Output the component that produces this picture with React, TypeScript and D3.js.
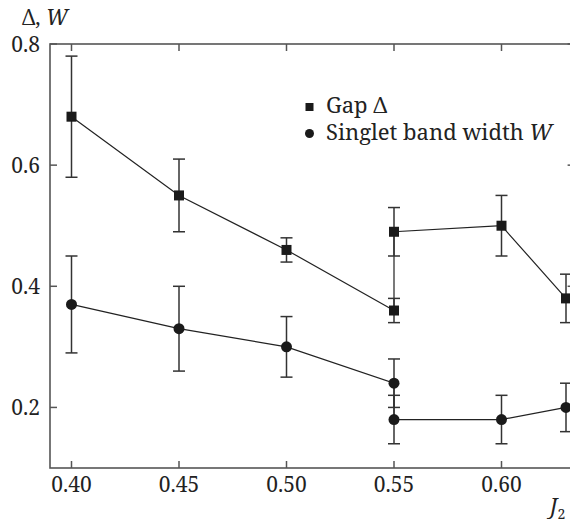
import React, { useRef, useEffect } from 'react';
import * as d3 from 'd3';

// J2 values for each point (0.55 is measured twice)
const j2 = [0.40, 0.45, 0.50, 0.55, 0.55, 0.60, 0.63];
const gap = [0.68, 0.55, 0.46, 0.36, 0.49, 0.50, 0.38];
const gapLo = [0.58, 0.49, 0.44, 0.34, 0.45, 0.45, 0.34];
const gapHi = [0.78, 0.61, 0.48, 0.38, 0.53, 0.55, 0.42];
const width = [0.37, 0.33, 0.30, 0.24, 0.18, 0.18, 0.20];
const widthLo = [0.29, 0.26, 0.25, 0.20, 0.14, 0.14, 0.16];
const widthHi = [0.45, 0.40, 0.35, 0.28, 0.22, 0.22, 0.24];
const xTicks = [0.40, 0.45, 0.50, 0.55, 0.60];
const yTicks = [0.2, 0.4, 0.6, 0.8];

const W = 570;
const H = 524;
const FONT = "'Noto Serif', 'Liberation Serif', 'Times New Roman', Times, 'DejaVu Serif', serif";

type Pt = { x: number; y: number; lo: number; hi: number };

const App = () => {
  const svgRef = useRef<SVGSVGElement>(null);
  useEffect(() => {
    const svg = d3.select(svgRef.current);
    svg.selectAll('*').remove();

    const x = d3.scaleLinear().domain([0.39, 0.634]).range([50, 574.6]);
    const y = d3.scaleLinear().domain([0.1, 0.8]).range([468, 44]);
    const [x0, x1] = x.range();
    const [y0, y1] = y.range();

    const axisColor = '#555';
    const tickLen = 7;

    // frame
    svg.append('rect')
      .attr('x', x0).attr('y', y1)
      .attr('width', x1 - x0).attr('height', y0 - y1)
      .attr('fill', 'none').attr('stroke', axisColor).attr('stroke-width', 1.6);

    const g = svg.append('g');
    // inward ticks, all four sides
    xTicks.forEach(t => {
      g.append('line').attr('x1', x(t)).attr('x2', x(t)).attr('y1', y0).attr('y2', y0 - tickLen)
        .attr('stroke', axisColor).attr('stroke-width', 1.5);
      g.append('line').attr('x1', x(t)).attr('x2', x(t)).attr('y1', y1).attr('y2', y1 + tickLen)
        .attr('stroke', axisColor).attr('stroke-width', 1.5);
      g.append('text').attr('x', x(t)).attr('y', 492)
        .attr('text-anchor', 'middle').style('font-family', FONT).style('font-size', '21px')
        .attr('fill', '#222').text(d3.format('.2f')(t));
    });
    yTicks.forEach(t => {
      g.append('line').attr('x1', x0).attr('x2', x0 + tickLen).attr('y1', y(t)).attr('y2', y(t))
        .attr('stroke', axisColor).attr('stroke-width', 1.5);
      g.append('line').attr('x1', x1).attr('x2', x1 - tickLen).attr('y1', y(t)).attr('y2', y(t))
        .attr('stroke', axisColor).attr('stroke-width', 1.5);
      g.append('text').attr('x', 40).attr('y', y(t) + 8)
        .attr('text-anchor', 'end').style('font-family', FONT).style('font-size', '21px')
        .attr('fill', '#222').text(d3.format('.1f')(t));
    });

    // axis titles
    const yl = svg.append('text').attr('x', 22).attr('y', 25)
      .style('font-family', FONT).style('font-size', '21px').attr('fill', '#222');
    yl.append('tspan').text('Δ, ');
    yl.append('tspan').attr('font-style', 'italic').text('W');

    const xl = svg.append('text').attr('x', 550).attr('y', 514)
      .style('font-family', FONT).style('font-size', '21px').attr('fill', '#222');
    xl.append('tspan').attr('font-style', 'italic').text('J');
    xl.append('tspan').style('font-size', '14px').attr('dy', 5).text('2');

    const series = (vals: number[], lo: number[], hi: number[]): Pt[] =>
      j2.map((v, i) => ({ x: v, y: vals[i], lo: lo[i], hi: hi[i] }));

    const drawSeries = (pts: Pt[], marker: 'square' | 'circle') => {
      const line = d3.line<Pt>().x(d => x(d.x)).y(d => y(d.y));
      svg.append('path').datum(pts).attr('d', line)
        .attr('fill', 'none').attr('stroke', '#222').attr('stroke-width', 1.2);
      const eb = svg.append('g').attr('stroke', '#333').attr('stroke-width', 1.5);
      pts.forEach(d => {
        eb.append('line').attr('x1', x(d.x)).attr('x2', x(d.x)).attr('y1', y(d.lo)).attr('y2', y(d.hi));
        [d.lo, d.hi].forEach(v => {
          eb.append('line').attr('x1', x(d.x) - 6).attr('x2', x(d.x) + 6).attr('y1', y(v)).attr('y2', y(v));
        });
      });
      const m = svg.append('g').attr('fill', '#1a1a1a');
      pts.forEach(d => {
        if (marker === 'square') {
          m.append('rect').attr('x', x(d.x) - 5).attr('y', y(d.y) - 5).attr('width', 10).attr('height', 10);
        } else {
          m.append('circle').attr('cx', x(d.x)).attr('cy', y(d.y)).attr('r', 5.5);
        }
      });
    };

    drawSeries(series(gap, gapLo, gapHi), 'square');
    drawSeries(series(width, widthLo, widthHi), 'circle');

    // legend
    const lg = svg.append('g').style('font-family', FONT).style('font-size', '22px').attr('fill', '#222');
    lg.append('rect').attr('x', 305.5).attr('y', 103).attr('width', 8).attr('height', 8).attr('fill', '#1a1a1a');
    const t1 = lg.append('text').attr('x', 326).attr('y', 113);
    t1.append('tspan').text('Gap Δ');
    lg.append('circle').attr('cx', 309.5).attr('cy', 133.5).attr('r', 4.5).attr('fill', '#1a1a1a');
    const t2 = lg.append('text').attr('x', 326).attr('y', 140);
    t2.append('tspan').text('Singlet band width ');
    t2.append('tspan').attr('font-style', 'italic').text('W');
  }, []);
  return (
    <svg ref={svgRef} width={W} height={H}
      style={{ position: 'absolute', left: 0, top: 0, background: '#fff' }} />
  );
};

export default App;
